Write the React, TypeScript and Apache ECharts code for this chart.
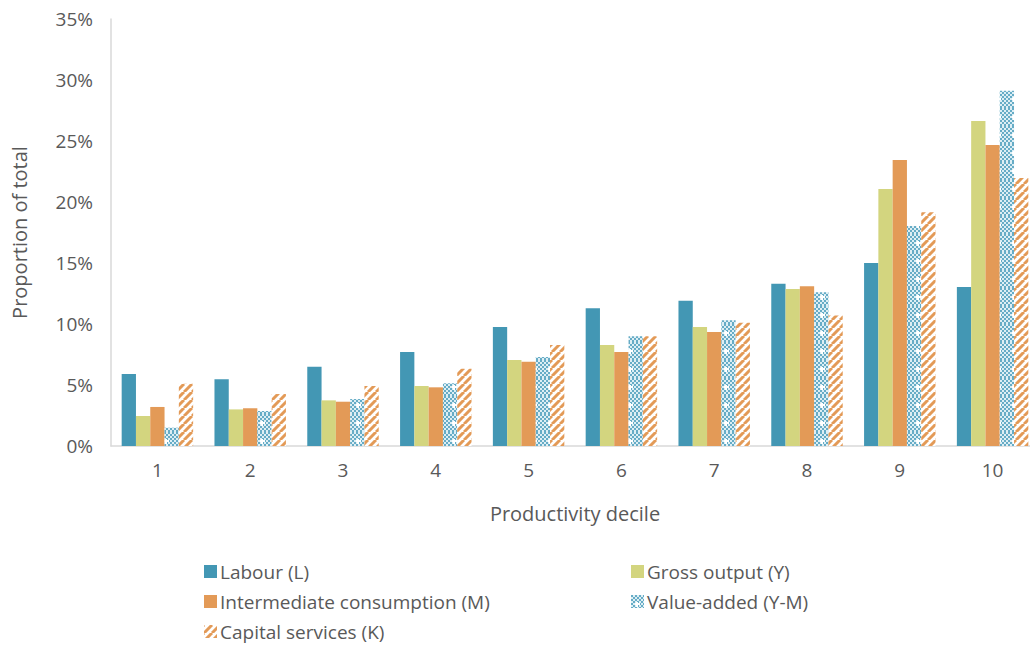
import React, { useEffect, useRef } from "react";
import * as echarts from "echarts";

const categories = ["1", "2", "3", "4", "5", "6", "7", "8", "9", "10"];
const labour = [5.9, 5.47, 6.5, 7.7, 9.75, 11.3, 11.9, 13.3, 15.0, 13.03];
const grossOutput = [2.46, 3.0, 3.74, 4.92, 7.05, 8.28, 9.75, 12.87, 21.07, 26.64];
const intermediate = [3.2, 3.1, 3.63, 4.81, 6.9, 7.7, 9.34, 13.1, 23.44, 24.67];
const valueAdded = [1.5, 2.87, 3.85, 5.14, 7.3, 9.0, 10.3, 12.6, 18.03, 29.12];
const capital = [5.1, 4.26, 4.92, 6.34, 8.28, 9.0, 10.1, 10.7, 19.15, 21.97];
const yTicks = [0, 5, 10, 15, 20, 25, 30, 35];

const BLUE = "#4397b4";
const GREEN = "#d3d57f";
const ORANGE = "#e39a57";
const TEXT = "#595959";
const FONT = "'Open Sans', 'Noto Sans', sans-serif";

function stripePattern(): HTMLCanvasElement {
  const c = document.createElement("canvas");
  c.width = 8;
  c.height = 8;
  const ctx = c.getContext("2d")!;
  ctx.fillStyle = "#ffffff";
  ctx.fillRect(0, 0, 8, 8);
  ctx.strokeStyle = ORANGE;
  ctx.lineWidth = 3;
  ctx.beginPath();
  for (let k = -8; k <= 16; k += 8) {
    ctx.moveTo(k, 8);
    ctx.lineTo(k + 8, 0);
  }
  ctx.stroke();
  return c;
}

function checkPattern(): HTMLCanvasElement {
  const c = document.createElement("canvas");
  const w = 16;
  const h = 18;
  c.width = w;
  c.height = h;
  const ctx = c.getContext("2d")!;
  for (let i = 0; i < w; i += 2) {
    for (let j = 0; j < h; j += 2) {
      ctx.fillStyle = ((i + j) / 2) % 2 === 0 ? "#66acc6" : "#ddeef4";
      ctx.fillRect(i, j, 2, 2);
    }
  }
  ctx.fillStyle = "#ffffff";
  const cx = 6, cy = 9;
  ctx.fillRect(cx - 2, cy - 1, 5, 2);
  ctx.fillRect(cx - 1, cy - 2, 2, 5);
  return c;
}

export default function App() {
  const ref = useRef<HTMLDivElement>(null);
  useEffect(() => {
    if (!ref.current) return;
    const chart = echarts.init(ref.current, undefined, { renderer: "svg" });
    const stripes = { image: stripePattern(), repeat: "repeat" } as any;
    const checks = { image: checkPattern(), repeat: "repeat" } as any;
    const mk = (name: string, data: number[], color: any) => ({
      name,
      type: "bar",
      data,
      barGap: "0%",
      barCategoryGap: "23%",
      itemStyle: { color },
    });
    const legendBase = {
      orient: "vertical",
      top: 562,
      padding: 0,
      itemWidth: 13,
      itemHeight: 13,
      itemGap: 11,
      icon: "rect",
      textStyle: { color: TEXT, fontSize: 19, fontFamily: FONT, padding: [0, 0, 0, -2] },
    };
    chart.setOption({
      animation: false,
      textStyle: { fontFamily: FONT },
      grid: { left: 111, top: 19, bottom: 200, right: 1, containLabel: false },
      legend: [
        {
          ...legendBase,
          left: 204,
          data: ["Labour (L)", "Intermediate consumption (M)", "Capital services (K)"],
        },
        {
          ...legendBase,
          left: 631,
          data: ["Gross output (Y)", "Value-added (Y-M)"],
        },
      ],
      xAxis: {
        type: "category",
        data: categories,
        name: "Productivity decile",
        nameLocation: "middle",
        nameGap: 57,
        nameTextStyle: { color: TEXT, fontSize: 20, fontFamily: FONT },
        axisLine: { lineStyle: { color: "#d9d9d9", width: 1.5 } },
        axisTick: { show: false },
        axisLabel: { color: TEXT, fontSize: 19, margin: 14, fontFamily: FONT },
      },
      yAxis: {
        type: "value",
        min: yTicks[0],
        max: yTicks[yTicks.length - 1],
        interval: 5,
        name: "Proportion of total",
        nameLocation: "middle",
        nameGap: 82,
        nameTextStyle: { color: TEXT, fontSize: 20, fontFamily: FONT },
        splitLine: { show: false },
        axisLine: { show: true, lineStyle: { color: "#d9d9d9", width: 1.5 } },
        axisTick: { show: false },
        axisLabel: { color: TEXT, fontSize: 19, margin: 18, formatter: "{value}%", fontFamily: FONT },
      },
      series: [
        mk("Labour (L)", labour, BLUE),
        mk("Gross output (Y)", grossOutput, GREEN),
        mk("Intermediate consumption (M)", intermediate, ORANGE),
        mk("Value-added (Y-M)", valueAdded, checks),
        mk("Capital services (K)", capital, stripes),
      ],
    });
    return () => chart.dispose();
  }, []);
  return (
    <div style={{ position: "absolute", left: 0, top: 0, width: 1030, height: 646, overflow: "hidden", background: "#fff" }}>
      <div ref={ref} style={{ width: 1040, height: 646 }} />
    </div>
  );
}
